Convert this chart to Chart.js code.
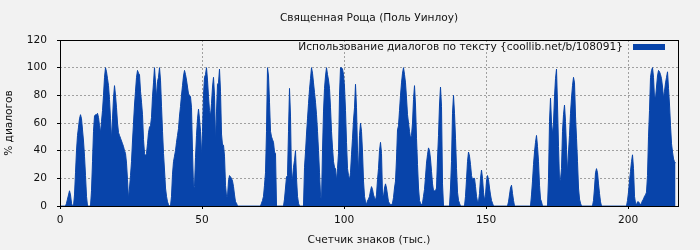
<!DOCTYPE html>
<html>
<head>
<meta charset="utf-8">
<script src="https://cdn.jsdelivr.net/npm/chart.js@4.4.1/dist/chart.umd.min.js"></script>
<style>
  html, body { margin: 0; padding: 0; background: #f2f2f2; }
  #wrap { width: 700px; height: 250px; }
</style>
</head>
<body>
<div id="wrap"><canvas id="dialogChart"></canvas></div>
<script>
const chartTitle = "Священная Роща (Поль Уинлоу)";
const seriesLabel = "Использование диалогов по тексту {coollib.net/b/108091}";
const xAxisTitle = "Счетчик знаков (тыс.)";
const yAxisTitle = "% диалогов";

// one reading per step (50 thousand chars = 142 steps)
const kcharsPerStep = 50 / 142;
const xTicks = [0, 50, 100, 150, 200];
const yTicks = [0, 20, 40, 60, 80, 100, 120];

// % of dialogue
const dialogShare = [
  0, 0, 0, 0, 0, 0, 2, 5, 8, 11, 8, 2, 0, 0,
  8, 24, 40, 51, 57, 63, 66, 63, 55, 47, 36, 22, 7, 0, 0, 0, 0,
  11, 32, 54, 65, 66, 66, 67, 64, 58, 53, 61, 69, 80, 93, 100, 97, 92, 87, 77, 63,
  48, 63, 78, 87, 80, 71, 60, 53, 51, 49, 47, 45, 43, 40, 38, 31, 19, 5, 13, 22,
  32, 47, 60, 73, 83, 93, 98, 96, 95, 83, 75, 66, 48, 38, 36, 38, 45, 53, 57, 58,
  64, 79, 89, 100, 89, 78, 90, 93, 100, 91, 72, 54, 38, 26, 13, 7, 3, 1, 0, 0,
  7, 23, 32, 36, 40, 46, 51, 56, 65, 72, 80, 87, 94, 98, 95, 91, 86, 81, 80, 79,
  71, 39, 13, 14, 35, 51, 63, 70, 63, 54, 36, 54, 80, 93, 95, 100, 91, 79, 69, 65,
  74, 86, 93, 80, 46, 68, 88, 89, 99, 83, 52, 44, 44, 36, 15, 7, 7, 18, 22, 21,
  20, 18, 14, 8, 3, 2,
  0, 0, 0, 0, 0, 0, 0, 0, 0, 0, 0, 0, 0, 0, 0, 0, 0, 0, 0, 0, 0, 0, 0, 0,
  2, 4, 7, 15, 24, 54, 100, 94, 75, 54, 50, 48, 46, 39, 38,
  0, 0, 0, 0, 0, 0, 0, 0,
  5, 13, 21, 22, 54, 85, 65, 20, 20, 28, 33, 40, 20, 7, 2,
  0, 0, 0, 0, 0,
  28, 39, 52, 63, 74, 84, 92, 100, 96, 89, 82, 75, 66, 54, 40, 24, 8, 3, 40, 68,
  85, 94, 100, 95, 91, 85, 71, 54, 42, 32, 28, 27, 18, 27, 38, 80, 100, 100, 99, 95,
  86, 69, 46, 27, 22, 19, 24, 37, 49, 62, 71, 88, 71, 40, 24, 51, 60, 54, 39, 18,
  7, 3, 1, 4, 5, 7, 11, 14, 12, 8, 6, 4,
  8, 19, 27, 40, 46, 38, 8, 7, 13, 16, 13, 8, 3, 2, 1, 1, 2, 6, 13, 18,
  34, 55, 58, 69, 80, 89, 96, 100, 95, 89, 78, 66, 60, 54, 49, 51, 60, 77, 87, 73,
  49, 30, 13, 4, 2, 1, 2, 7, 12, 21, 31, 37, 42, 40, 34, 25, 16, 11, 11, 11,
  13, 34, 51, 73, 86, 72, 16,
  0, 0, 0, 0, 0, 0, 0,
  13, 32, 67, 80, 67, 49, 27, 10, 4, 2,
  0, 0, 0, 0, 0,
  7, 19, 32, 39, 36, 30, 22, 19, 20, 20,
  14, 7, 3, 3, 9, 20, 26, 20, 10, 4, 8, 18, 22, 19, 13, 8, 4, 2,
  0, 0, 0, 0, 0, 0, 0, 0, 0, 0, 0, 0, 0, 0, 0,
  3, 8, 13, 15, 9, 4,
  0, 0, 0, 0, 0, 0, 0, 0, 0, 0, 0, 0, 0, 0, 0, 0, 0,
  8, 18, 30, 39, 46, 51, 43, 32, 15, 5, 3,
  0, 0, 0, 0, 0, 0,
  20, 61, 78, 60, 52, 60, 79, 92, 99, 73, 43, 18, 19, 27, 54, 66, 73, 61, 41, 24,
  39, 51, 67, 78, 87, 93, 89, 65, 49, 32, 13, 5, 2,
  0, 0, 0, 0, 0, 0, 0, 0, 0, 0, 0, 0,
  4, 13, 24, 27, 24, 16, 9, 3,
  0, 0, 0, 0, 0, 0, 0, 0, 0, 0, 0, 0, 0, 0, 0, 0, 0, 0, 0, 0, 0, 0, 0, 0, 0, 0,
  4, 10, 18, 25, 32, 37, 27, 7, 2, 1, 3, 3, 2, 1, 2, 4, 5, 7, 8, 10,
  22, 50, 69, 93, 98, 100, 93, 78, 78, 86, 94, 98, 97, 95, 92, 86, 78, 83, 89, 93,
  97, 85, 73, 58, 45, 39, 34, 32, 31
];

const BLUE = "#0844aa";
const FONT = "'DejaVu Sans', sans-serif";
const FSIZE = 10.6;

const points = dialogShare.map((v, i) => ({ x: (i + 0.5) * kcharsPerStep, y: v }));

// background, title, frame round the plot and the legend inside it
const framePlugin = {
  id: "frame",
  beforeDraw(chart) {
    const c = chart.ctx;
    const a = chart.chartArea;
    c.save();
    c.fillStyle = "#f2f2f2";
    c.fillRect(0, 0, chart.width, chart.height);
    c.font = FSIZE + "px " + FONT;
    c.fillStyle = "#111";
    c.textAlign = "center";
    c.textBaseline = "middle";
    c.fillText(chartTitle, (a.left + a.right) / 2, 18);
    c.restore();
  },
  afterDatasetsDraw(chart) {
    const c = chart.ctx;
    const a = chart.chartArea;
    c.save();
    c.strokeStyle = "#000";
    c.lineWidth = 1;
    c.strokeRect(Math.round(a.left) + 0.5, Math.round(a.top) + 0.5,
      Math.round(a.right - a.left), Math.round(a.bottom - a.top));

    c.font = FSIZE + "px " + FONT;
    c.fillStyle = "#111";
    c.textAlign = "right";
    c.textBaseline = "middle";
    c.fillText(chart.data.datasets[0].label, a.right - 55, a.top + 7.5);
    c.fillStyle = BLUE;
    c.fillRect(a.right - 45, a.top + 4, 32, 6);
    c.restore();
  }
};

new Chart(document.getElementById("dialogChart"), {
  type: "line",
  data: {
    datasets: [{
      label: seriesLabel,
      data: points,
      fill: "origin",
      backgroundColor: BLUE,
      borderColor: BLUE,
      borderWidth: 1,
      pointRadius: 0,
      tension: 0
    }]
  },
  options: {
    responsive: true,
    maintainAspectRatio: false,
    animation: false,
    layout: { padding: { left: 0, right: 22, top: 40, bottom: 0 } },
    plugins: {
      legend: { display: false },
      tooltip: { enabled: false },
      title: { display: false }
    },
    scales: {
      x: {
        type: "linear",
        min: 0,
        max: 217.6,
        afterFit(s) { s.height = 44; },
        afterBuildTicks(s) { s.ticks = xTicks.map(v => ({ value: v })); },
        ticks: { color: "#111", font: { family: FONT, size: FSIZE }, padding: 5, maxRotation: 0 },
        grid: { color: "#a0a0a0", tickColor: "#000", tickLength: 3, tickBorderDash: [] },
        border: { display: false, dash: [2, 2] },
        title: { display: true, text: xAxisTitle, color: "#111",
                 font: { family: FONT, size: FSIZE }, padding: { top: 3, bottom: 3 } }
      },
      y: {
        min: 0,
        max: 120,
        afterFit(s) { s.width = 60; },
        afterBuildTicks(s) { s.ticks = yTicks.map(v => ({ value: v })); },
        ticks: { color: "#111", font: { family: FONT, size: FSIZE }, padding: 10 },
        grid: { color: "#a0a0a0", tickColor: "#000", tickLength: 3, tickBorderDash: [] },
        border: { display: false, dash: [2, 2] },
        title: { display: true, text: yAxisTitle, color: "#111",
                 font: { family: FONT, size: FSIZE }, padding: { top: 3, bottom: 3 } }
      }
    }
  },
  plugins: [framePlugin]
});
</script>
</body>
</html>
